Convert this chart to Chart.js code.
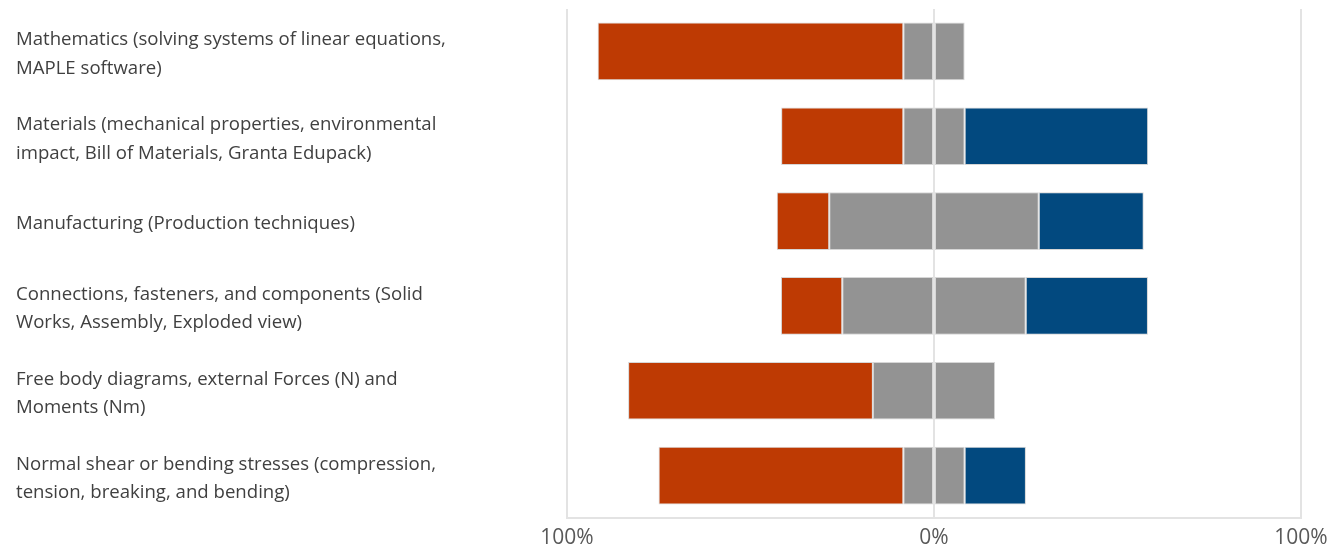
<!DOCTYPE html>
<html><head><meta charset="utf-8">
<script src="https://cdn.jsdelivr.net/npm/chart.js@4/dist/chart.umd.min.js"></script>
<style>html,body{margin:0;padding:0;background:#fff}#wrap{width:1329px;height:544px}</style>
</head><body><div id="wrap"><canvas id="c"></canvas></div>
<script>
const categories = [
  ["Mathematics (solving systems of linear equations,", "MAPLE software)"],
  ["Materials (mechanical properties, environmental", "impact, Bill of Materials, Granta Edupack)"],
  ["Manufacturing (Production techniques)"],
  ["Connections, fasteners, and components (Solid", "Works, Assembly, Exploded view)"],
  ["Free body diagrams, external Forces (N) and", "Moments (Nm)"],
  ["Normal shear or bending stresses (compression,", "tension, breaking, and bending)"]
];
const negativeShare = [83.3, 33.3, 14.3, 16.7, 66.7, 66.7];
const neutralShare  = [16.7, 16.7, 57.1, 50.0, 33.3, 16.7];
const positiveShare = [0, 50.0, 28.6, 33.3, 0, 16.7];
const xTicks = [-100, 0, 100];

const halfNeutralLeft = neutralShare.map(v => -v / 2);
const halfNeutralRight = neutralShare.map(v => v / 2);
const negValues = negativeShare.map(v => -v);

const RED = '#BE3A03', GREY = '#939393', BLUE = '#02497F';
const common = {borderColor: '#d6d6d6', borderWidth: 1, borderSkipped: false, barPercentage: 0.68, categoryPercentage: 1};

new Chart(document.getElementById('c'), {
  type: 'bar',
  data: {
    labels: categories,
    datasets: [
      Object.assign({label: 'Neutral (left)', data: halfNeutralLeft, backgroundColor: GREY}, common),
      Object.assign({label: 'Negative', data: negValues, backgroundColor: RED}, common),
      Object.assign({label: 'Neutral (right)', data: halfNeutralRight, backgroundColor: GREY}, common),
      Object.assign({label: 'Positive', data: positiveShare, backgroundColor: BLUE}, common)
    ]
  },
  options: {
    indexAxis: 'y',
    responsive: true,
    maintainAspectRatio: false,
    animation: false,
    layout: {padding: {left: 16, right: 28, top: 9, bottom: 0}},
    plugins: {legend: {display: false}, tooltip: {enabled: false}},
    scales: {
      x: {
        stacked: true, min: -100, max: 100,
        afterBuildTicks: s => { s.ticks = xTicks.map(v => ({value: v})); },
        afterFit: s => { s.height = 26; s.paddingLeft = 0; s.paddingRight = 0; },
        ticks: {callback: v => Math.abs(v) + '%', color: '#595959', font: {family: 'Open Sans', size: 21}, padding: 7, maxRotation: 0},
        grid: {color: '#e3e3e3', lineWidth: 2, drawTicks: false, z: 1},
        border: {display: true, color: '#e3e3e3', width: 2, z: 1}
      },
      y: {
        stacked: true,
        afterFit: s => { s.width = 551; s.paddingTop = 0; s.paddingBottom = 0; },
        ticks: {crossAlign: 'far', labelOffset: 3, color: '#404040', font: {family: 'Open Sans', size: 18.6, lineHeight: 1.53}},
        grid: {display: false, drawTicks: false},
        border: {display: false}
      }
    }
  }
});
</script></body></html>
